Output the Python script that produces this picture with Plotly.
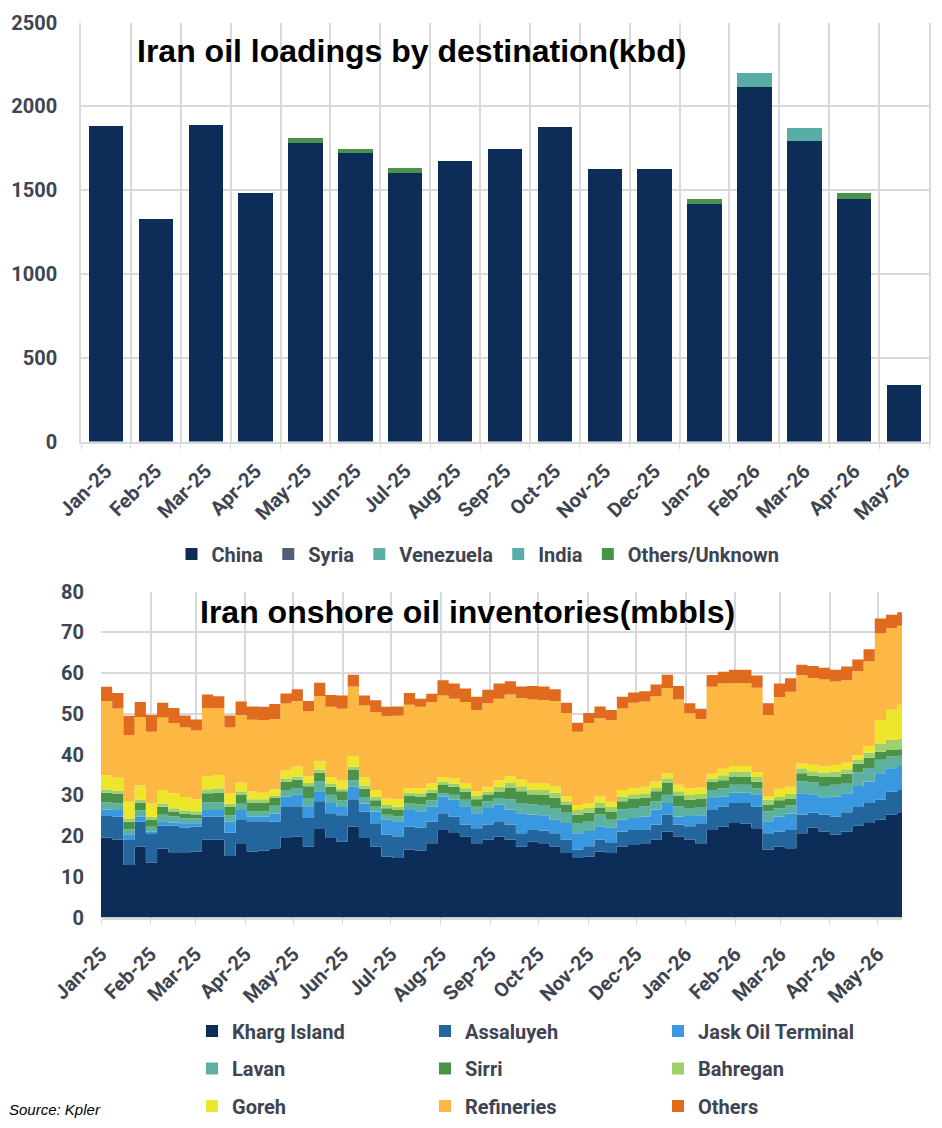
import pandas as pd
import plotly.graph_objects as go

# ---------------- Top chart data (kbd) ----------------
months = ["Jan-25", "Feb-25", "Mar-25", "Apr-25", "May-25", "Jun-25", "Jul-25", "Aug-25",
          "Sep-25", "Oct-25", "Nov-25", "Dec-25", "Jan-26", "Feb-26", "Mar-26", "Apr-26", "May-26"]
china = [1880, 1330, 1890, 1485, 1780, 1722, 1605, 1675, 1746, 1877, 1627, 1627, 1420, 2116, 1794, 1448, 338]
syria = [0, 0, 0, 0, 0, 0, 0, 0, 0, 0, 0, 0, 0, 0, 0, 0, 0]
venezuela = [0, 0, 0, 0, 0, 0, 0, 0, 0, 0, 0, 0, 0, 0, 0, 0, 0]
india = [0, 0, 0, 0, 0, 0, 0, 0, 0, 0, 0, 0, 0, 84, 78, 0, 0]
others_unknown = [0, 0, 0, 0, 28, 24, 28, 0, 0, 0, 0, 0, 28, 0, 0, 36, 0]

# ---------------- Bottom chart data (mbbls, weekly) ----------------
dates = pd.date_range("2025-01-01", periods=72, freq="7D").strftime("%Y-%m-%d").tolist() + ["2026-05-16"]
kharg = [19.6, 19.1, 12.9, 17.4, 13.5, 16.9, 16.0, 16.0, 16.2, 19.1, 19.1, 15.1, 18.2, 16.2, 16.4, 17.0,
         19.7, 19.9, 17.4, 21.7, 19.5, 18.6, 22.3, 19.5, 17.4, 15.0, 14.6, 16.6, 16.4, 18.2, 21.5, 20.9,
         19.9, 18.2, 19.1, 19.9, 19.1, 17.4, 18.6, 18.2, 17.4, 15.8, 14.6, 15.0, 16.2, 15.8, 17.4, 17.8,
         18.2, 19.1, 21.1, 19.9, 19.1, 18.2, 21.5, 22.3, 23.2, 23.0, 21.9, 16.6, 17.4, 17.0, 20.7, 22.0,
         21.1, 20.3, 21.1, 22.5, 23.2, 24.0, 25.2, 25.8, 25.8]
assaluyeh = [5.3, 5.7, 6.1, 6.1, 7.2, 5.7, 6.5, 6.1, 6.1, 5.7, 5.7, 5.7, 5.7, 7.4, 7.2, 6.5,
             7.4, 7.4, 7.0, 6.8, 6.1, 6.5, 6.7, 6.5, 5.7, 5.3, 5.2, 5.7, 5.6, 5.3, 4.1, 3.9,
             2.9, 3.7, 3.7, 3.7, 3.7, 3.3, 2.9, 3.1, 3.3, 3.3, 2.0, 2.5, 2.9, 2.5, 3.7, 3.7,
             3.3, 3.7, 4.1, 2.9, 3.3, 4.9, 4.9, 4.9, 4.9, 5.1, 5.3, 4.1, 3.7, 4.5, 4.5, 3.7,
             4.1, 4.5, 4.7, 4.6, 4.9, 4.9, 5.7, 5.7, 5.7]
jask = [1.6, 1.6, 1.4, 1.2, 0.4, 1.0, 0.8, 1.0, 0.8, 1.6, 1.6, 2.7, 2.5, 1.2, 1.2, 2.0,
        2.6, 2.9, 2.9, 2.5, 2.5, 2.0, 3.1, 2.0, 2.9, 3.7, 3.8, 4.1, 4.1, 3.7, 4.1, 4.1,
        4.5, 3.7, 4.1, 4.1, 3.7, 4.9, 3.7, 3.8, 3.3, 4.1, 4.1, 3.7, 3.3, 3.7, 2.9, 2.9,
        3.3, 3.7, 2.9, 2.0, 2.5, 2.0, 2.9, 2.5, 2.5, 2.5, 2.9, 2.9, 3.7, 4.0, 5.3, 4.5,
        4.3, 4.9, 4.7, 5.2, 5.3, 6.5, 5.7, 5.7, 5.7]
lavan = [1.7, 1.6, 1.2, 1.6, 1.2, 1.6, 1.5, 1.2, 1.2, 1.8, 1.8, 1.6, 1.5, 1.2, 1.2, 1.9,
         1.6, 1.6, 2.0, 2.5, 2.0, 1.6, 1.6, 1.6, 1.2, 1.2, 1.2, 1.6, 1.6, 1.6, 0.8, 1.2,
         1.6, 1.6, 1.6, 1.6, 2.5, 2.5, 2.5, 2.5, 2.9, 2.5, 2.5, 2.5, 2.9, 2.0, 2.5, 2.5,
         2.5, 2.0, 2.0, 2.5, 2.0, 2.0, 2.0, 2.0, 2.0, 2.0, 1.6, 2.5, 2.0, 2.0, 2.9, 2.9,
         2.8, 2.9, 2.5, 3.3, 3.3, 3.3, 2.9, 2.5, 2.5]
sirri = [2.4, 2.3, 1.9, 1.8, 1.6, 2.0, 1.2, 1.2, 1.0, 2.3, 2.5, 2.0, 2.2, 2.2, 2.2, 1.9,
         2.0, 2.0, 2.9, 2.0, 2.0, 2.3, 2.6, 2.0, 1.6, 1.6, 1.6, 1.8, 2.0, 1.8, 2.0, 2.0,
         2.0, 1.8, 1.6, 1.6, 2.9, 2.9, 2.5, 2.5, 2.5, 2.0, 2.0, 2.0, 1.6, 2.0, 2.0, 2.2,
         2.0, 2.5, 2.9, 2.5, 2.0, 2.0, 2.0, 2.0, 2.0, 2.0, 1.6, 1.6, 2.0, 1.6, 2.0, 1.6,
         2.3, 2.0, 2.3, 2.1, 2.5, 2.0, 1.6, 1.6, 1.6]
bahregan = [0.8, 0.8, 0.8, 0.8, 0.8, 0.8, 0.8, 0.8, 0.8, 1.0, 1.0, 0.8, 0.8, 0.8, 0.8, 0.6,
            0.8, 0.8, 0.8, 0.8, 0.8, 0.6, 0.7, 0.8, 0.8, 0.8, 0.8, 0.8, 0.8, 0.8, 0.8, 0.8,
            0.8, 0.8, 0.8, 1.2, 1.2, 1.2, 1.2, 1.2, 1.2, 0.8, 1.2, 1.2, 1.2, 1.2, 1.2, 1.1,
            1.2, 0.8, 1.2, 1.2, 1.2, 1.2, 0.8, 1.2, 1.2, 1.2, 1.2, 1.2, 0.8, 1.2, 1.2, 1.2,
            1.0, 1.2, 1.1, 1.1, 1.2, 2.0, 2.5, 2.5, 2.5]
goreh = [3.5, 3.2, 4.1, 3.5, 3.3, 3.3, 3.7, 3.3, 2.9, 3.1, 3.3, 2.5, 2.2, 1.9, 1.6, 1.6,
         2.0, 2.5, 1.6, 2.0, 1.6, 2.0, 2.5, 2.0, 1.6, 1.6, 1.8, 1.1, 1.2, 1.5, 1.2, 1.2,
         1.2, 1.1, 1.2, 1.6, 1.6, 1.6, 1.6, 1.6, 1.6, 1.2, 1.2, 1.2, 1.6, 1.2, 1.6, 1.6,
         1.6, 1.6, 1.2, 1.6, 1.6, 1.6, 1.2, 1.6, 1.4, 1.4, 1.2, 0.8, 2.0, 1.8, 1.2, 1.6,
         1.5, 1.6, 1.6, 1.1, 1.6, 5.7, 7.4, 8.4, 8.4]
refineries = [18.2, 17.0, 16.4, 16.8, 17.6, 17.8, 17.2, 17.0, 16.9, 16.8, 16.4, 16.2, 16.6, 17.6, 17.8, 17.2,
              16.4, 16.0, 16.0, 16.0, 17.2, 17.6, 17.2, 17.6, 19.2, 20.2, 20.5, 20.5, 20.0, 20.0, 20.0, 19.6,
              20.0, 20.0, 20.5, 20.0, 20.0, 20.0, 20.5, 20.5, 20.9, 20.5, 18.0, 19.6, 19.2, 20.0, 20.0, 20.9,
              20.9, 20.9, 20.9, 20.9, 18.4, 16.8, 21.3, 20.9, 20.3, 20.3, 20.7, 20.0, 22.5, 23.3, 21.7, 21.3,
              21.3, 20.5, 20.3, 20.5, 20.9, 21.3, 20.0, 19.4, 19.4]
others = [3.5, 3.8, 4.7, 3.7, 4.1, 3.6, 3.7, 3.0, 2.7, 3.3, 2.9, 3.0, 3.3, 3.3, 3.3, 3.7,
          2.5, 2.9, 2.5, 3.3, 2.9, 3.3, 2.9, 2.5, 2.9, 2.3, 2.3, 2.9, 2.0, 2.0, 3.7, 3.7,
          3.3, 3.3, 3.3, 3.7, 3.3, 2.9, 3.3, 3.3, 2.9, 2.5, 2.2, 2.5, 2.9, 2.5, 2.9, 2.5,
          2.5, 2.9, 3.3, 3.3, 2.5, 2.5, 2.9, 2.9, 3.3, 3.3, 3.0, 2.9, 3.3, 3.3, 2.5, 2.9,
          2.9, 2.9, 3.3, 2.9, 2.9, 3.7, 3.3, 3.3, 3.3]

# ---------------- Styling ----------------
W, H = 942, 1128
OFF = 8  # page body margin of the html page
TXT = "#3e4451"
GRID = "#d9d9d9"
XTICKFONT = dict(family="Roboto", size=20, color=TXT, weight="bold")
YTICKFONT = dict(family="Roboto", size=20, color=TXT, weight="bold")
LEGFONT = dict(family="Roboto", size=20, color=TXT, weight="bold")
TITLEFONT = dict(family="Liberation Sans, Arial", size=32, color="black", weight="bold")


def px_x(p):
    return (p - OFF) / W


def px_y(p):
    return 1 - (p - OFF) / H


fig = go.Figure()

top_series = [("China", china, "#0c2d57"), ("Syria", syria, "#4f6075"),
              ("Venezuela", venezuela, "#5aafa6"), ("India", india, "#5aada6"),
              ("Others/Unknown", others_unknown, "#4b924b")]
for name, vals, col in top_series:
    fig.add_trace(go.Bar(x=months, y=vals, name=name, marker=dict(color=col, line=dict(width=0)),
                         xaxis="x", yaxis="y", legend="legend"))

bottom_series = [("Kharg Island", kharg, "#0c2d57"), ("Assaluyeh", assaluyeh, "#23669e"),
                 ("Jask Oil Terminal", jask, "#3a98e0"), ("Lavan", lavan, "#5cb1a0"),
                 ("Sirri", sirri, "#4a9249"), ("Bahregan", bahregan, "#a0d06b"),
                 ("Goreh", goreh, "#ede62b"), ("Refineries", refineries, "#fcb843"),
                 ("Others", others, "#e06b1f")]
for name, vals, col in bottom_series:
    fig.add_trace(go.Scatter(x=dates, y=vals, name=name, stackgroup="inv", mode="lines",
                             line=dict(width=0, shape="hv", color=col), fillcolor=col,
                             xaxis="x2", yaxis="y2", showlegend=False, legendgroup=name))

# square legend symbols for the stacked areas (three rows of three)
legend_names = ["legend2", "legend3", "legend4"]
for i, (name, vals, col) in enumerate(bottom_series):
    fig.add_trace(go.Bar(x=[dates[0]], y=[0], name=name, marker=dict(color=col, line=dict(width=0)),
                         xaxis="x2", yaxis="y2", legendgroup=name, legend=legend_names[i // 3],
                         hoverinfo="skip"))

fig.update_layout(
    width=W, height=H,
    margin=dict(l=0, r=0, t=0, b=0, autoexpand=False),
    paper_bgcolor="white", plot_bgcolor="white",
    barmode="stack", bargap=0.31,
    xaxis=dict(domain=[px_x(81), px_x(929)], type="category", tickson="boundaries",
               showgrid=True, gridcolor=GRID, gridwidth=1.5, ticks="outside", ticklen=5,
               tickcolor=GRID, showline=True, linecolor=GRID, linewidth=2,
               tickangle=-45, tickfont=XTICKFONT, anchor="y", automargin=False,
               ticklabelstandoff=8),
    yaxis=dict(domain=[px_y(441.5), px_y(22.5)], range=[0, 2500], dtick=500,
               showgrid=True, gridcolor=GRID, gridwidth=1.5, zeroline=False,
               showline=True, linecolor=GRID, linewidth=1.5, mirror=True,
               tickfont=YTICKFONT, ticklabelstandoff=18, anchor="x", automargin=False),
    xaxis2=dict(domain=[px_x(101), px_x(902)], type="date",
                range=["2025-01-01", "2026-05-16"], tick0="2025-01-01", dtick="M1",
                tickformat="%b-%y", tickangle=-45, showgrid=True, gridcolor=GRID, gridwidth=1.5,
                ticks="outside", ticklen=5, tickcolor=GRID, showline=True, linecolor=GRID,
                linewidth=2, tickfont=XTICKFONT, anchor="y2", ticklabelstandoff=10,
                automargin=False),
    yaxis2=dict(domain=[px_y(917.5), px_y(591.5)], range=[0, 80], dtick=10,
                showgrid=True, gridcolor=GRID, gridwidth=1.5, zeroline=False,
                tickfont=YTICKFONT, ticklabelstandoff=16, anchor="x2", automargin=False),
    legend=dict(orientation="h", x=px_x(478), xanchor="center", y=px_y(554), yanchor="middle",
                font=LEGFONT, itemwidth=30, traceorder="normal", bgcolor="rgba(0,0,0,0)"),
    showlegend=True,
)
for j, ln in enumerate(legend_names):
    fig.update_layout({ln: dict(orientation="h", x=px_x(192), xanchor="left",
                                y=px_y(1031 + 37.5 * j), yanchor="middle", font=LEGFONT,
                                itemwidth=30, entrywidth=188, entrywidthmode="pixels",
                                traceorder="normal", bgcolor="rgba(0,0,0,0)")})

fig.add_annotation(text="Iran oil loadings by destination(kbd)", xref="paper", yref="paper",
                   x=px_x(135), y=px_y(51), xanchor="left", yanchor="middle",
                   showarrow=False, font=TITLEFONT)
fig.add_annotation(text="Iran onshore oil inventories(mbbls)", xref="paper", yref="paper",
                   x=px_x(198), y=px_y(612), xanchor="left", yanchor="middle",
                   showarrow=False, font=TITLEFONT)
fig.add_annotation(text="Source: Kpler", xref="paper", yref="paper",
                   x=px_x(7), y=px_y(1109), xanchor="left", yanchor="middle", showarrow=False,
                   font=dict(family="Liberation Sans, Arial", size=15, color="black", style="italic"))

fig.write_html("out.html")
